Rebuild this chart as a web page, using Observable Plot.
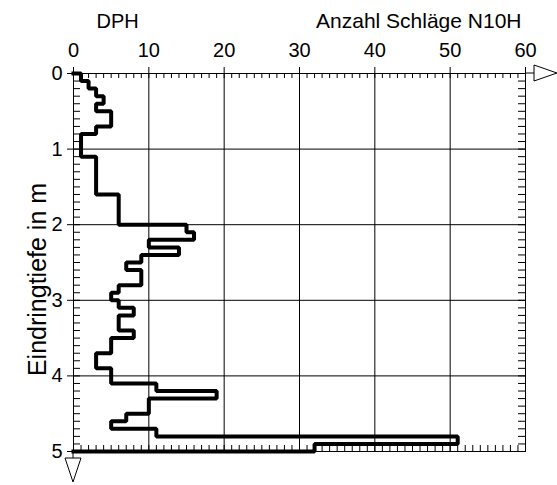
<!DOCTYPE html>
<html><head><meta charset="utf-8">
<script src="https://cdn.jsdelivr.net/npm/d3@7"></script>
<script src="https://cdn.jsdelivr.net/npm/@observablehq/plot@0.6"></script>
<style>body{margin:0;background:#fff;}</style>
</head><body><div id="chart"></div>
<script>
// Interval top depths (m) and blows per 10 cm (N10H)
const depthTop = [0.0,0.1,0.2,0.3,0.4,0.5,0.6,0.7,0.8,0.9,
                  1.0,1.1,1.2,1.3,1.4,1.5,1.6,1.7,1.8,1.9,
                  2.0,2.1,2.2,2.3,2.4,2.5,2.6,2.7,2.8,2.9,
                  3.0,3.1,3.2,3.3,3.4,3.5,3.6,3.7,3.8,3.9,
                  4.0,4.1,4.2,4.3,4.4,4.5,4.6,4.7,4.8,4.9];
const blows = [1,2,3,4,3,5,5,3,1,1,
               1,3,3,3,3,3,6,6,6,6,
               15,16,10,14,9,7,9,9,6,5,
               6,8,6,6,8,5,5,3,3,5,
               5,11,19,10,10,7,5,11,51,32];
const endDepth = 5.0;
const blowTicks = [0,10,20,30,40,50,60];
const depthTicks = [0,1,2,3,4,5];
const gridX = [10,20,30,40,50];
const gridY = [1,2,3,4];
const minorX = d3.range(1,60);
const minorY = d3.range(1,50).map(i => i/10);

const W = 557, H = 485, mL = 73, mR = 32, mT = 73, mB = 34;
const fw = W - mL - mR, fh = H - mT - mB;
const font = "Liberation Sans, Arial, sans-serif";

const pts = [{x: 0, y: depthTop[0]}]
  .concat(blows.map((v, i) => ({x: v, y: depthTop[i]})))
  .concat([{x: 0, y: endDepth}]);

const chart = Plot.plot({
  width: W, height: H,
  marginLeft: mL, marginRight: mR, marginTop: mT, marginBottom: mB,
  style: {fontFamily: font, fontSize: "20px", color: "black", background: "white"},
  x: {domain: [0, 60]},
  y: {domain: [0, 5], reverse: true},
  marks: [
    Plot.ruleX(gridX, {stroke: "black", strokeWidth: 1}),
    Plot.ruleY(gridY, {stroke: "black", strokeWidth: 1}),
    Plot.tickX(minorX, {x: d => d, insetBottom: fh - 5, stroke: "black"}),
    Plot.tickX(minorX, {x: d => d, insetTop: fh - 6, stroke: "black"}),
    Plot.tickY(minorY, {y: d => d, insetRight: fw - 7, stroke: "black"}),
    Plot.tickY(minorY, {y: d => d, insetLeft: fw - 7, stroke: "black"}),
    Plot.frame({stroke: "black", strokeWidth: 1}),
    Plot.axisX(blowTicks, {anchor: "top", tickSize: 7, tickPadding: 10, label: null, fontSize: 20, tickFormat: d3.format("d")}),
    Plot.axisY(depthTicks, {anchor: "left", tickSize: 6, tickPadding: 5, label: null, fontSize: 20, tickFormat: d3.format("d")}),
    Plot.line(pts, {x: "x", y: "y", curve: "step-before", stroke: "black", strokeWidth: 4, strokeLinejoin: "miter", strokeLinecap: "square"}),
    Plot.text(["DPH"], {frameAnchor: "top-left", dx: 23, dy: -46, textAnchor: "start", lineAnchor: "bottom", fontSize: 20}),
    Plot.text(["Anzahl Schläge N10H"], {frameAnchor: "top-right", dx: -4, dy: -46, textAnchor: "end", lineAnchor: "bottom", fontSize: 21}),
    Plot.text(["Eindringtiefe in m"], {frameAnchor: "left", dx: -36, dy: 17, rotate: -90, textAnchor: "middle", lineAnchor: "middle", fontSize: 25})
  ]
});

// arrow decorations at the axis ends
const sx = chart.scale("x"), sy = chart.scale("y");
const svg = d3.select(chart);
const x60 = sx.apply(60), y0 = sy.apply(0), x0 = sx.apply(0), y5 = sy.apply(5);
svg.append("path").attr("d", `M${x60},${y0}H${x60 + 9}`).attr("stroke", "black").attr("fill", "none");
svg.append("path").attr("d", `M${x60 + 9},${y0 - 8}L${x60 + 9},${y0 + 8}L${x60 + 32},${y0}Z`).attr("stroke", "black").attr("fill", "white");
svg.append("path").attr("d", `M${x0},${y5}V${y5 + 7}`).attr("stroke", "black").attr("fill", "none");
svg.append("path").attr("d", `M${x0 - 8},${y5 + 7}L${x0 + 8},${y5 + 7}L${x0},${y5 + 31}Z`).attr("stroke", "black").attr("fill", "white");

document.getElementById("chart").appendChild(chart);
</script>
</body></html>
